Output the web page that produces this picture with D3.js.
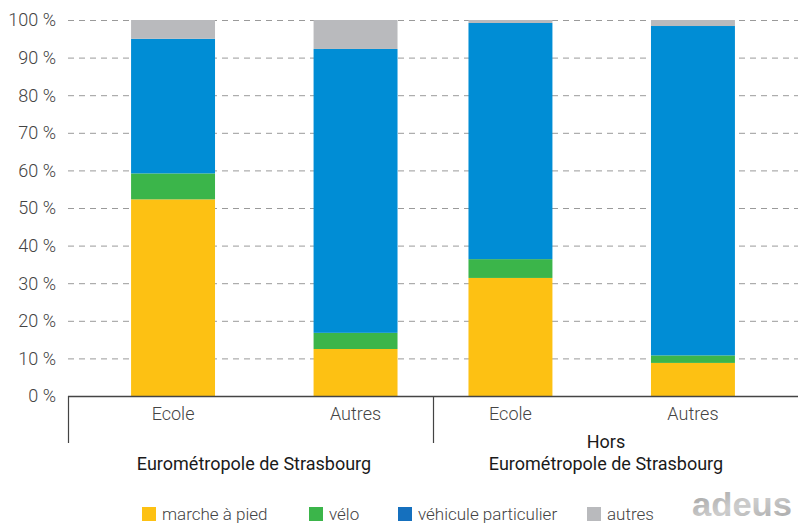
<!DOCTYPE html>
<html>
<head>
<meta charset="utf-8">
<script src="https://cdn.jsdelivr.net/npm/d3@7"></script>
<style>
  body { margin: 0; background: #fff; }
  svg { display: block; font-family: Roboto, "Liberation Sans", sans-serif; }
</style>
</head>
<body>
<svg id="canvas" width="798" height="523"></svg>
<script>
// data
let groups = ["Eurométropole de Strasbourg", "Hors Eurométropole de Strasbourg"]
let types = ["Ecole", "Autres"]
let modes = ["marche à pied", "vélo", "véhicule particulier", "autres"]

let marche = [52.3, 12.5, 31.4, 8.8]
let velo = [6.9, 4.3, 5.0, 2.0]
let vehicule = [35.8, 75.5, 62.8, 87.6]
let autres = [5.0, 7.7, 0.8, 1.6]

let yTicks = [0, 10, 20, 30, 40, 50, 60, 70, 80, 90, 100]

let barColors = ["#fdc113", "#3bb54a", "#008dd5", "#b9babd"]
let legendColors = ["#fdc113", "#3bb54a", "#1570be", "#b9babd"]

let svg = d3.select("#canvas")

let rows = []
groups.forEach((g, gi) => {
    types.forEach((t, ti) => {
        let i = gi * 2 + ti
        rows.push({
            group: g, type: t, gi: gi,
            "marche à pied": marche[i],
            "vélo": velo[i],
            "véhicule particulier": vehicule[i],
            "autres": autres[i]
        })
    })
})

let y = d3.scaleLinear().domain([0, 100]).range([396, 20])

let xGroup = d3.scaleBand().domain(groups).range([68, 798])

// inner scale per group; the bars sit off-centre in the original
let inner = gi => d3.scaleBand()
    .domain(types)
    .range([0, xGroup.bandwidth()])
    .paddingInner(0.54)
    .paddingOuter(0.27)
    .align(gi === 0 ? 0.64 : 0.36)

// grid lines
svg.append("g")
    .selectAll("line")
    .data(yTicks.filter(d => d > 0))
    .enter()
    .append("line")
    .attr("x1", 68)
    .attr("x2", 798)
    .attr("y1", d => y(d) + 0.5)
    .attr("y2", d => y(d) + 0.5)
    .attr("stroke", "#9a9a9a")
    .attr("stroke-width", 1)
    .attr("stroke-dasharray", "6,5")

// y labels
svg.append("g")
    .selectAll("text")
    .data(yTicks)
    .enter()
    .append("text")
    .attr("x", 56)
    .attr("y", d => y(d))
    .attr("dy", "0.36em")
    .attr("text-anchor", "end")
    .attr("font-size", 18)
    .attr("font-weight", 300)
    .attr("fill", "#444")
    .text(d => d + " %")

// stacked bars
let stack = d3.stack().keys(modes)(rows)

let layers = svg.append("g")
    .selectAll("g")
    .data(stack)
    .enter()
    .append("g")
    .attr("fill", (d, i) => barColors[i])

layers.selectAll("rect")
    .data(d => d)
    .enter()
    .append("rect")
    .attr("x", d => xGroup(d.data.group) + inner(d.data.gi)(d.data.type))
    .attr("width", d => inner(d.data.gi).bandwidth())
    .attr("y", d => y(d[1]))
    .attr("height", d => y(d[0]) - y(d[1]))

// x axis line and group separators
svg.append("line")
    .attr("x1", 68).attr("x2", 798)
    .attr("y1", 396.5).attr("y2", 396.5)
    .attr("stroke", "#444").attr("stroke-width", 1.5)

svg.append("g")
    .selectAll("line")
    .data(groups)
    .enter()
    .append("line")
    .attr("x1", d => xGroup(d) + 0.5)
    .attr("x2", d => xGroup(d) + 0.5)
    .attr("y1", 396)
    .attr("y2", 443)
    .attr("stroke", "#444")
    .attr("stroke-width", 1.2)

// category labels
svg.append("g")
    .selectAll("text")
    .data(rows)
    .enter()
    .append("text")
    .attr("x", d => xGroup(d.group) + inner(d.gi)(d.type) + inner(d.gi).bandwidth() / 2)
    .attr("y", 420)
    .attr("text-anchor", "middle")
    .attr("font-size", 18)
    .attr("font-weight", 300)
    .attr("fill", "#444")
    .text(d => d.type)

// group titles
let title = svg.append("g")
title.append("text")
    .attr("x", 254)
    .attr("y", 470)
    .attr("text-anchor", "middle")
    .attr("font-size", 18)
    .attr("font-weight", 400)
    .attr("fill", "#1a1a1a")
    .text(groups[0])

let t2 = title.append("text")
    .attr("x", 606)
    .attr("y", 448)
    .attr("text-anchor", "middle")
    .attr("font-size", 18)
    .attr("font-weight", 400)
    .attr("fill", "#1a1a1a")
t2.append("tspan").attr("x", 606).text("Hors")
t2.append("tspan").attr("x", 606).attr("dy", 22).text("Eurométropole de Strasbourg")

// legend
let legendX = [142, 309, 398, 587]
let legend = svg.append("g")
    .selectAll("g")
    .data(modes)
    .enter()
    .append("g")
    .attr("transform", (d, i) => "translate(" + legendX[i] + ",507)")

legend.append("rect")
    .attr("width", 14)
    .attr("height", 14)
    .attr("fill", (d, i) => legendColors[i])

legend.append("text")
    .attr("x", 20)
    .attr("y", 13)
    .attr("font-size", 17)
    .attr("font-weight", 300)
    .attr("fill", "#444")
    .text(d => d)

// logo
let grad = svg.append("defs").append("linearGradient")
    .attr("id", "logo").attr("x1", 0).attr("y1", 0).attr("x2", 1).attr("y2", 1)
grad.append("stop").attr("offset", "0%").attr("stop-color", "#999")
grad.append("stop").attr("offset", "50%").attr("stop-color", "#cdcdcd")
grad.append("stop").attr("offset", "100%").attr("stop-color", "#a5a5a5")

svg.append("text")
    .attr("x", 692)
    .attr("y", 516)
    .attr("font-family", "'Liberation Sans', sans-serif")
    .attr("font-weight", "bold")
    .attr("font-size", 33)
    .attr("textLength", 100)
    .attr("lengthAdjust", "spacingAndGlyphs")
    .attr("fill", "url(#logo)")
    .text("adeus")
</script>
</body>
</html>
